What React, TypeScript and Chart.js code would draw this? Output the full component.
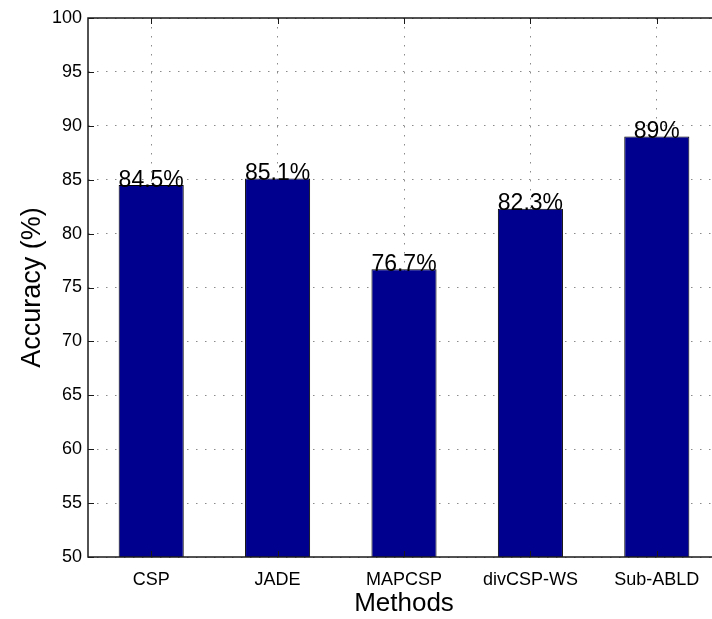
import React, { useEffect, useRef } from "react";
import { Chart, registerables } from "chart.js";

Chart.register(...registerables);

const categories = ["CSP", "JADE", "MAPCSP", "divCSP-WS", "Sub-ABLD"];
const accuracy = [84.5, 85.1, 76.7, 82.3, 89];
const valueLabels = ["84.5%", "85.1%", "76.7%", "82.3%", "89%"];
const yMin = 50;
const yMax = 100;
const yStep = 5;

const FONT = "'Liberation Sans', Arial, Helvetica, sans-serif";

const framePlugin = {
  id: "frame",
  afterDatasetsDraw(chart: any) {
    const { ctx, chartArea } = chart;
    const { left, right, top, bottom } = chartArea;
    const xs = chart.scales.x;
    const ys = chart.scales.y;
    ctx.save();
    ctx.strokeStyle = "#1a1a1a";
    ctx.lineWidth = 1.5;
    ctx.setLineDash([]);
    ctx.strokeRect(left, top, right - left, bottom - top);
    ctx.lineWidth = 1;
    ctx.beginPath();
    const tl = 6;
    ys.ticks.forEach((t: any) => {
      const y = Math.round(ys.getPixelForValue(t.value)) + 0.5;
      ctx.moveTo(left, y);
      ctx.lineTo(left + tl, y);
      ctx.moveTo(right, y);
      ctx.lineTo(right - tl, y);
    });
    categories.forEach((_, i) => {
      const x = Math.round(xs.getPixelForValue(i)) + 0.5;
      ctx.moveTo(x, bottom);
      ctx.lineTo(x, bottom - tl);
      ctx.moveTo(x, top);
      ctx.lineTo(x, top + tl);
    });
    ctx.stroke();
    // value labels
    const meta = chart.getDatasetMeta(0);
    ctx.fillStyle = "#000";
    ctx.font = `23px ${FONT}`;
    ctx.textAlign = "center";
    ctx.textBaseline = "alphabetic";
    meta.data.forEach((bar: any, i: number) => {
      ctx.fillText(valueLabels[i], bar.x, bar.y + 1.5);
    });
    ctx.restore();
  },
};

export default function App() {
  const ref = useRef<HTMLCanvasElement>(null);
  useEffect(() => {
    const canvas = ref.current!;
    const chart = new Chart(canvas, {
      type: "bar",
      data: {
        labels: categories,
        datasets: [
          {
            data: accuracy,
            backgroundColor: "rgb(0,0,143)",
            borderColor: "#000",
            borderWidth: 1,
            categoryPercentage: 1,
            barPercentage: 0.515,
          },
        ],
      },
      options: {
        responsive: false,
        animation: false,
        devicePixelRatio: 1,
        layout: { padding: { top: 18, right: 20, left: 0, bottom: 0 } },
        plugins: {
          legend: { display: false },
          tooltip: { enabled: false },
        },
        scales: {
          x: {
            type: "category",
            offset: true,
            grid: {
              offset: false,
              drawTicks: false,
              color: "#8a8a8a",
              lineWidth: 1,
            },
            border: { display: false, dash: [1.5, 7.5] },
            ticks: {
              color: "#000",
              font: { family: FONT, size: 18 },
              padding: 12,
              maxRotation: 0,
              autoSkip: false,
            },
            title: {
              display: true,
              text: "Methods",
              color: "#000",
              font: { family: FONT, size: 26 },
              padding: 0,
            },
            afterFit(scale: any) {
              scale.height = 62;
            },
          },
          y: {
            min: yMin,
            max: yMax,
            grid: {
              drawTicks: false,
              color: "#8a8a8a",
              lineWidth: 1,
            },
            border: { display: false, dash: [1.5, 7.5] },
            ticks: {
              stepSize: yStep,
              color: "#000",
              font: { family: FONT, size: 18 },
              padding: 6,
            },
            title: {
              display: true,
              text: "Accuracy (%)",
              color: "#000",
              font: { family: FONT, size: 27 },
              padding: { top: 16, bottom: 0 },
            },
            afterFit(scale: any) {
              scale.width = 88;
            },
          },
        },
      },
      plugins: [framePlugin],
    });
    return () => chart.destroy();
  }, []);
  return (
    <div
      style={{
        position: "fixed",
        left: 0,
        top: 0,
        width: 712,
        height: 619,
        overflow: "hidden",
        background: "#fff",
      }}
    >
      <canvas ref={ref} width={740} height={619} style={{ display: "block" }} />
    </div>
  );
}
